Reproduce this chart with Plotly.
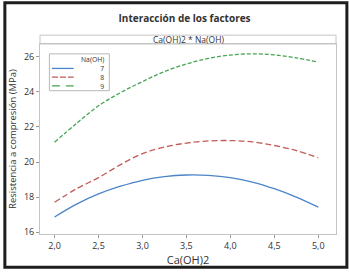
import plotly.graph_objects as go

ca_oh2 = [2.0, 2.25, 2.5, 2.75, 3.0, 3.25, 3.5, 3.75, 4.0, 4.25, 4.5, 4.75, 5.0]
na_oh_7 = [16.87, 17.6, 18.18, 18.62, 18.96, 19.17, 19.26, 19.24, 19.11, 18.86, 18.48, 18.0, 17.43]
na_oh_8 = [17.71, 18.48, 19.11, 19.85, 20.48, 20.85, 21.08, 21.2, 21.22, 21.15, 20.94, 20.65, 20.24]
na_oh_9 = [21.13, 22.2, 23.2, 23.95, 24.58, 25.15, 25.58, 25.9, 26.09, 26.16, 26.1, 25.93, 25.69]
series_names = ["7", "8", "9"]
legend_title = "Na(OH)"
x_ticks = [2.0, 2.5, 3.0, 3.5, 4.0, 4.5, 5.0]
y_ticks = [16, 18, 20, 22, 24, 26]

W, H = 349, 273
L, R, T, B = 37, 13, 43.5, 36.3
pw, ph = W - L - R, H - T - B

def px_x(p):
    return (p - L) / pw

def px_y(p):
    return (H - B - p) / ph

font = "Open Sans"
colors = ["#4b84c8", "#c45a5a", "#45a552"]
dashes = ["solid", "6px,3px", "4px,2px"]
legend_dashes = ["solid", "6px,2px", "8px,6px"]
series = [na_oh_7, na_oh_8, na_oh_9]

fig = go.Figure()
for name, ys, c, d in zip(series_names, series, colors, dashes):
    fig.add_trace(go.Scatter(x=ca_oh2, y=ys, name=name, mode="lines", showlegend=False,
                             line=dict(color=c, width=1.3, dash=d, shape="spline")))

leg_fs = 6.8
line_h = leg_fs * 1.3
title_y = 59.5
shapes = [
    dict(type="rect", xref="paper", yref="paper",
         x0=px_x(37), x1=px_x(336), y0=px_y(43.5), y1=px_y(34.5),
         line=dict(color="#c4c4c4", width=1), fillcolor="white", layer="below"),
    dict(type="rect", xref="paper", yref="paper",
         x0=px_x(1.5), x1=px_x(347), y0=px_y(1.5), y1=px_y(270.5),
         line=dict(color="#1e1e1e", width=3), fillcolor="rgba(0,0,0,0)"),
    dict(type="rect", xref="paper", yref="paper",
         x0=px_x(46.5), x1=px_x(107), y0=px_y(53.5), y1=px_y(91),
         line=dict(color="#b8b8b8", width=1), fillcolor="white"),
]
for i, (c, d) in enumerate(zip(colors, legend_dashes)):
    ry = title_y + (i + 1) * line_h
    shapes.append(dict(type="line", xref="paper", yref="paper",
                       x0=px_x(49), x1=px_x(71), y0=px_y(ry), y1=px_y(ry),
                       line=dict(color=c, width=1.3, dash=d)))

legend_text = "<br>".join([legend_title] + series_names)
annotations = [
    dict(text="Ca(OH)2 * Na(OH)", xref="paper", yref="paper", x=0.5, y=px_y(39),
         xanchor="center", yanchor="middle", showarrow=False, font=dict(size=8.5, color="#333333")),
    dict(text=legend_text, xref="paper", yref="paper", x=px_x(103), y=px_y(title_y + 1.5 * line_h),
         xanchor="right", yanchor="middle", align="right", showarrow=False, borderpad=0,
         font=dict(size=leg_fs, color="#333333")),
]

fig.update_layout(
    width=W, height=H,
    margin=dict(l=L, r=R, t=T, b=B),
    paper_bgcolor="white", plot_bgcolor="white",
    separators=",.",
    font=dict(family=font, size=9, color="#333333"),
    title=dict(text="<b>Interacción de los factores</b>", x=px_x(183), xref="paper", xanchor="center",
               y=1 - 18 / H, yanchor="middle", font=dict(size=10, color="#333333")),
    showlegend=False,
    xaxis=dict(range=[1.834, 5.202], tickvals=x_ticks, tickformat=".1f",
               showgrid=False, zeroline=False, ticks="outside", ticklen=3,
               tickcolor="#999999", showline=True, linecolor="#c4c4c4", mirror=True,
               title=dict(text="Ca(OH)2", font=dict(size=11), standoff=2),
               tickfont=dict(size=9)),
    yaxis=dict(range=[15.90, 26.72], tickvals=y_ticks,
               showgrid=False, zeroline=False, ticks="outside", ticklen=3,
               tickcolor="#999999", showline=True, linecolor="#c4c4c4", mirror=True,
               title=dict(text="Resistencia a compresión (MPa)", font=dict(size=9.5), standoff=5),
               tickfont=dict(size=9)),
    shapes=shapes,
    annotations=annotations,
)

fig.write_html("out.html", config={"displayModeBar": False},
               post_script="document.body.style.margin='0';")
